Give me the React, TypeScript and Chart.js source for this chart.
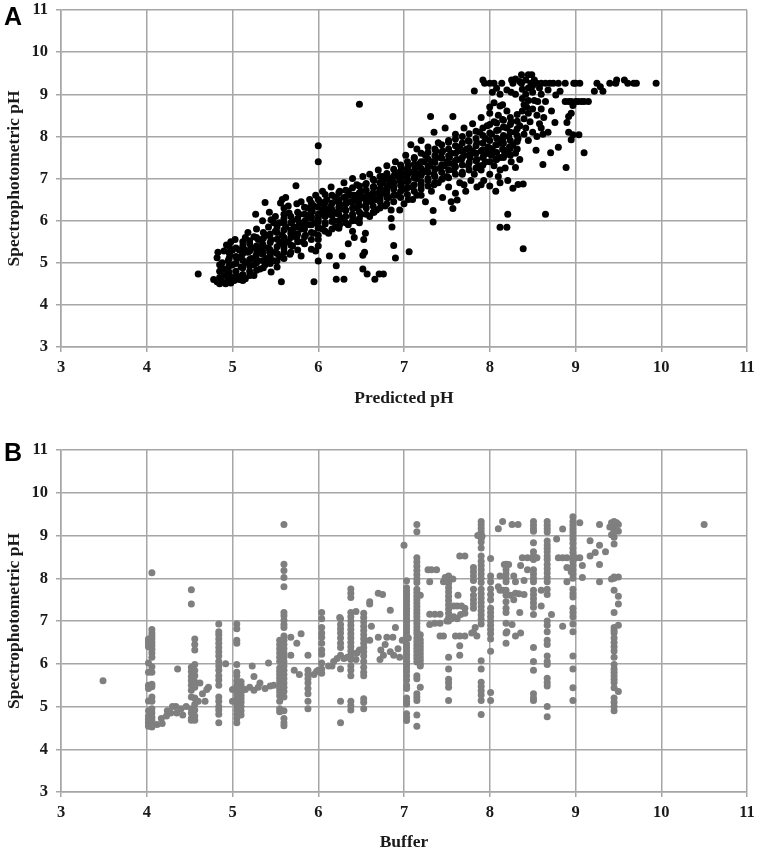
import React, { useEffect, useRef } from "react";
import { Chart, registerables } from "chart.js";

Chart.register(...registerables);

const axisTicks = [3, 4, 5, 6, 7, 8, 9, 10, 11];

// Panel A: [predicted pH, spectrophotometric pH]
const predictedOutliers = [[4.6,4.73],[5.74,6.83],[5.38,6.43],[5.27,6.15],[5.43,6.2],[5.57,4.55],[5.95,4.55],[6.21,4.61],[6.3,4.61],[6.52,4.85],[6.57,4.73],[6.66,4.61],[6.71,4.73],[6.76,4.73],[6.21,4.93],[6.13,5.16],[6.28,5.16],[6.0,5.04],[5.8,5.16],[5.67,5.2],[6.52,5.18],[6.54,5.25],[6.9,5.11],[7.06,5.26],[6.88,5.41],[7.34,5.97],[7.34,6.24],[8.39,5.33],[8.12,5.84],[8.2,5.84],[8.21,6.15],[8.65,6.15],[7.57,6.29],[7.62,6.49],[6.0,7.78],[6.0,7.4],[6.48,8.76],[6.0,5.4],[5.97,5.28],[6.0,5.55],[5.92,5.32],[6.85,6.05],[6.86,5.85],[6.53,5.55],[6.55,5.7],[6.4,5.75],[6.45,6.0],[6.95,6.25],[7.0,6.4],[6.35,5.45],[6.42,5.6]];
const predictedRunA = [[4.78,4.6],[4.82,4.55],[4.85,4.5],[4.85,4.65],[4.88,4.55],[4.9,4.7],[4.92,4.5],[4.95,4.6],[4.95,4.75],[4.98,4.52],[5.0,4.65],[4.85,4.8],[4.9,4.85],[5.02,4.58],[5.05,4.7],[5.08,4.6],[5.12,4.58],[5.15,4.62],[4.85,4.95],[4.82,5.12],[4.88,5.0],[4.9,5.28],[4.83,5.25],[4.95,5.05],[4.97,5.18],[5.0,4.95],[5.0,5.3],[5.05,5.1],[4.93,5.42],[4.98,5.5],[5.03,5.55],[5.08,5.3],[5.1,4.9],[5.1,5.15],[5.12,5.4],[5.15,5.0],[5.18,5.25],[5.15,5.6],[5.2,4.8],[5.2,5.45],[5.22,5.1],[5.25,4.7],[5.25,4.95],[5.28,5.3],[5.3,5.55],[5.3,5.05],[5.32,4.85],[5.35,5.2],[5.35,5.45],[5.38,4.95],[5.4,5.65],[5.4,5.1],[5.42,5.35],[5.45,4.78],[5.45,5.55],[5.48,5.05],[5.5,5.25],[5.5,5.75],[5.52,4.9],[5.55,5.45],[5.55,5.15],[5.58,5.65],[5.6,5.35],[5.6,6.05],[5.62,5.85],[5.65,5.5],[5.65,6.35],[5.68,5.7],[5.7,5.4],[5.7,6.0],[5.58,6.5],[5.56,6.42],[5.6,6.3],[5.62,6.55],[5.72,5.85],[5.75,6.4],[5.75,5.6],[5.78,6.15],[5.8,5.8],[5.8,6.45],[5.82,5.5],[5.85,6.0],[5.85,5.65],[5.48,5.95],[5.42,5.85],[5.5,6.1],[5.55,5.95],[5.36,5.72],[5.28,5.8],[5.25,5.62],[5.18,5.72],[5.35,6.0],[5.45,6.02],[5.52,5.85],[5.6,6.15],[5.66,6.18]];
const predictedRunB = [[5.88,6.3],[5.9,5.9],[5.9,6.5],[5.92,6.1],[5.95,5.7],[5.95,6.35],[5.97,6.6],[6.0,6.05],[6.0,5.85],[6.02,6.45],[6.05,6.25],[6.05,6.7],[6.08,5.95],[6.1,6.5],[6.1,6.15],[6.12,5.7],[6.15,6.35],[6.15,6.8],[6.18,6.0],[6.2,6.55],[6.2,5.85],[6.22,6.2],[6.25,6.7],[6.25,6.4],[6.28,6.05],[6.3,6.55],[6.3,6.9],[6.32,6.25],[6.35,5.9],[6.35,6.7],[6.38,6.45],[6.4,6.1],[6.4,7.0],[6.42,6.6],[6.45,6.3],[6.45,6.85],[6.48,6.5],[6.5,6.15],[6.5,6.7],[6.52,7.05],[6.55,6.35],[6.55,6.85],[6.58,6.6],[6.6,6.1],[6.6,7.1],[6.62,6.45],[6.65,6.8],[6.65,6.95],[6.68,6.25],[6.7,6.65],[6.7,7.2],[6.72,6.5],[6.75,6.9],[6.75,7.05],[6.78,6.35],[6.8,6.75],[6.8,7.3],[6.82,6.55],[6.85,7.0],[6.85,6.25],[6.88,6.8],[6.9,7.15],[6.9,7.4],[6.92,6.6],[6.95,6.95],[6.97,7.25],[7.0,6.75],[7.0,7.1],[7.02,7.55],[7.05,6.5],[7.05,6.95],[7.05,7.3],[7.08,7.8],[7.1,6.8],[7.1,7.15],[7.12,7.5],[7.15,6.6],[7.15,7.0],[7.15,7.7],[7.18,7.35],[7.2,6.85],[7.2,7.9],[7.22,7.15],[7.25,6.45],[7.25,7.55],[7.28,6.95],[7.28,7.75],[7.3,7.3],[7.31,8.47],[7.32,6.7],[7.35,7.1],[7.35,8.1],[7.38,7.5],[7.4,6.9],[7.4,7.85],[7.42,7.25],[7.45,6.55],[7.45,7.65],[7.48,8.2],[7.5,7.05],[7.5,7.4]];
const predictedRunC = [[7.52,6.8],[7.52,7.9],[7.55,6.45],[7.55,7.6],[7.57,8.47],[7.58,7.2],[7.6,6.65],[7.6,8.05],[7.62,7.45],[7.65,6.9],[7.65,7.75],[7.68,7.1],[7.7,8.2],[7.7,7.55],[7.72,6.7],[7.75,7.9],[7.75,7.3],[7.78,6.95],[7.8,7.65],[7.8,8.3],[7.82,7.1],[7.82,9.08],[7.85,6.8],[7.85,7.85],[7.85,7.45],[7.88,8.1],[7.9,7.2],[7.9,7.65],[7.9,8.45],[7.92,9.34],[7.93,6.95],[7.94,9.26],[7.95,7.95],[7.95,7.4],[7.97,8.25],[7.98,7.75],[8.0,6.82],[8.0,7.1],[8.0,8.55],[8.0,8.7],[8.0,9.26],[8.02,7.55],[8.02,8.05],[8.03,9.05],[8.05,7.3],[8.05,8.35],[8.05,8.8],[8.05,9.26],[8.07,6.7],[8.07,7.8],[8.08,9.14],[8.1,7.05],[8.1,8.15],[8.1,8.5],[8.12,7.5],[8.12,8.72],[8.14,9.26],[8.12,9.0],[8.15,7.7],[8.15,7.95],[8.15,8.4],[8.18,7.25],[8.2,8.2],[8.2,8.6],[8.21,6.95],[8.22,7.6],[8.22,8.0],[8.25,7.4],[8.25,8.35],[8.25,9.05],[8.255,9.34],[8.27,6.77],[8.27,7.8],[8.27,9.26],[8.3,7.26],[8.3,8.1],[8.3,7.6],[8.3,9.0],[8.33,6.86],[8.33,7.95],[8.35,8.25],[8.35,7.45],[8.37,9.46],[8.37,9.26],[8.38,9.12],[8.38,8.9],[8.38,8.6],[8.39,6.87],[8.4,8.05],[8.4,8.42],[8.4,8.75],[8.42,9.34],[8.42,9.0],[8.42,8.2],[8.45,7.9],[8.45,9.46],[8.45,9.15],[8.45,8.85],[8.45,8.55],[8.47,8.35],[8.48,9.26],[8.49,9.46],[8.5,8.65],[8.5,9.05],[8.5,8.1],[8.52,8.85],[8.52,9.34],[8.54,7.67],[8.55,8.5],[8.55,8.0],[8.55,9.26],[8.56,8.83],[8.58,8.3],[8.6,8.65],[8.6,9.26],[8.6,9.0],[8.62,7.33],[8.62,8.05],[8.63,8.45],[8.65,8.83],[8.65,9.26],[8.68,9.1],[8.68,8.1],[8.7,9.26],[8.71,7.61],[8.72,8.6],[8.74,9.26],[8.76,8.33],[8.77,8.98],[8.8,7.74],[8.8,9.26],[8.82,9.07],[8.88,8.83],[8.88,9.26],[8.89,7.26],[8.9,8.33],[8.92,8.83],[8.92,8.1],[8.92,8.47],[8.95,7.92],[8.95,8.83],[8.95,8.55],[8.97,8.04],[8.97,8.73],[8.98,9.26],[9.0,8.83],[9.0,9.26],[9.03,8.83],[9.04,8.04],[9.05,9.26],[9.07,8.83],[9.1,7.61],[9.1,8.83],[9.15,8.83],[9.22,9.07],[9.25,9.26],[9.29,9.18],[9.32,9.07],[9.4,9.26],[9.47,9.26],[9.48,9.34],[9.57,9.34],[9.61,9.26],[9.68,9.26],[9.71,9.26],[9.94,9.26]];
const predictedFill = [[5.15,5.3],[5.27,5.15],[5.22,5.35],[5.33,5.32],[5.44,5.22],[5.58,5.5],[5.72,5.7],[5.78,5.95],[5.88,6.12],[5.83,5.88],[5.93,6.22],[5.96,5.95],[6.03,6.15],[6.07,6.38],[6.13,6.28],[6.17,6.15],[6.23,6.45],[6.27,6.28],[6.33,6.42],[6.37,6.6],[6.43,6.5],[6.47,6.4],[6.53,6.55],[6.57,6.48],[6.63,6.6],[6.67,6.5],[6.73,6.75],[6.77,6.65],[6.83,6.85],[6.87,6.92],[6.93,7.05],[6.97,6.88],[7.03,7.0],[7.07,7.15],[7.13,7.25],[7.17,7.1],[7.23,7.4],[7.27,7.2],[7.33,7.4],[7.37,7.65],[7.43,7.5],[7.47,7.3],[7.53,7.5],[7.57,7.35],[7.63,7.65],[7.67,7.45],[7.73,7.7],[7.77,7.5],[7.83,7.6],[7.87,7.3],[7.93,7.55],[7.97,7.65],[8.03,7.7],[8.07,7.45],[8.13,7.85],[8.17,7.55],[8.23,7.75],[6.05,5.8],[6.25,5.9],[6.48,5.95],[6.65,6.2],[7.1,6.5],[7.2,6.6],[7.35,6.85],[7.45,7.0],[7.7,6.85],[7.9,6.85],[8.12,6.9],[8.12,7.2],[8.15,8.75],[8.6,8.2],[8.2,9.1],[8.43,8.7],[8.5,9.2],[8.35,9.3],[8.3,9.36],[8.58,9.15]];
const predictedCore = [[4.96,[4.6,4.78,4.92,5.1,5.25,5.4]],[5.04,[4.62,4.8,4.98,5.15,5.35]],[5.12,[4.72,4.88,5.06,5.22,5.5]],[5.2,[4.7,4.92,5.08,5.28,5.52]],[5.28,[4.82,5.0,5.2,5.4,5.6]],[5.36,[4.88,5.05,5.25,5.4,5.58]],[5.44,[4.98,5.14,5.3,5.48,5.68]],[5.52,[5.05,5.22,5.38,5.56,5.72,5.92]],[5.6,[5.1,5.25,5.45,5.6,5.78,5.95]],[5.68,[5.25,5.42,5.6,5.78,5.95,6.1]],[5.76,[5.3,5.5,5.68,5.85,6.05,6.2]],[5.84,[5.45,5.62,5.8,5.98,6.15,6.32]],[5.92,[5.55,5.72,5.9,6.06,6.22,6.42]],[6.0,[5.65,5.82,5.98,6.15,6.32,6.5]],[6.08,[5.75,5.92,6.1,6.28,6.44,6.62]],[6.16,[5.8,5.98,6.12,6.26,6.42,6.6]],[6.24,[5.82,6.0,6.15,6.32,6.5,6.66]],[6.32,[5.95,6.1,6.24,6.4,6.56,6.72]],[6.4,[6.0,6.16,6.3,6.44,6.6,6.78]],[6.48,[6.05,6.2,6.36,6.52,6.66,6.82]],[6.56,[6.15,6.3,6.44,6.58,6.72,6.88]],[6.64,[6.2,6.35,6.5,6.66,6.8,6.98]],[6.72,[6.3,6.45,6.6,6.75,6.9,7.05]],[6.8,[6.4,6.55,6.68,6.82,6.98,7.12]],[6.88,[6.45,6.6,6.75,6.9,7.06,7.22]],[6.96,[6.55,6.7,6.84,7.0,7.16,7.32]],[7.04,[6.62,6.78,6.92,7.08,7.22,7.4]],[7.12,[6.7,6.85,7.02,7.18,7.34,7.48]],[7.2,[6.75,6.92,7.08,7.24,7.4,7.6]],[7.28,[6.82,7.0,7.15,7.3,7.46,7.62]],[7.36,[6.9,7.05,7.22,7.38,7.54,7.7]],[7.44,[6.98,7.15,7.32,7.48,7.62,7.8]],[7.52,[7.02,7.2,7.36,7.54,7.7,7.86]],[7.6,[7.1,7.28,7.42,7.6,7.78,7.94]],[7.68,[7.15,7.32,7.5,7.66,7.84,8.0]],[7.76,[7.2,7.38,7.56,7.72,7.88,8.06]],[7.84,[7.25,7.42,7.6,7.78,7.95,8.12]],[7.92,[7.32,7.5,7.68,7.84,8.02,8.2]],[8.0,[7.4,7.58,7.72,7.9,8.08,8.28]],[8.08,[7.45,7.62,7.8,7.96,8.14,8.32]],[8.16,[7.5,7.68,7.84,8.02,8.22,8.38]],[8.24,[7.55,7.72,7.9,8.1,8.28,8.45]],[8.32,[7.7,7.88,8.02,8.18,8.36,8.52]]] as [number, number[]][];

// Panel B: buffer columns, [buffer pH, spectrophotometric pH values]
const column402 = [4.02,[6.58,6.52,6.46,6.4,6.02,5.8,5.5,5.42,5.13,4.9,4.78,4.7,4.65,4.6,4.54]];
const column406 = [4.06,[8.13,6.8,6.72,6.65,6.58,6.5,6.42,6.34,6.25,6.15,5.93,5.8,5.52,5.46,5.22,5.12,4.95,4.85,4.75,4.68,4.6,4.52]];
const column452 = [4.52,[7.73,7.4,5.92,5.82,5.7,5.6,5.5,5.38,5.22,4.95,4.85,4.72,4.68]];
const column456 = [4.56,[6.58,6.45,6.32,5.98,5.84,5.72,5.58,5.45,5.2,5.05,4.92,4.78,4.68]];
const column483 = [4.84,[6.93,6.75,6.68,6.58,6.48,6.38,6.28,6.18,6.05,5.95,5.85,5.72,5.62,5.5,5.22,5.12,5.0,4.92,4.82,4.62]];
const column505 = [5.05,[6.93,6.82,6.55,6.48,5.98,5.8,5.72,5.6,5.5,5.42,5.32,5.25,5.18,5.1,5.02,4.92,4.82,4.72,4.62]];
const column510 = [5.1,[5.58,5.5,5.42,5.34,5.26,5.18,5.1,5.0,4.9,4.8]];
const column555 = [5.55,[6.55,6.45,6.35,6.25,6.15,6.05,5.9,5.82,5.74,5.66,5.58,5.5,5.42,5.34,5.25,5.12,4.95,4.88]];
const column560 = [5.6,[9.26,8.33,8.18,8.02,7.8,7.2,7.12,7.02,6.92,6.85,6.65,6.55,6.45,6.35,6.25,6.15,6.05,5.95,5.85,5.75,5.65,5.55,5.45,5.35,5.22,4.9,4.72,4.62,4.55]];
const column588 = [5.88,[6.2,5.85,5.75,5.65,5.55,5.42,5.3,5.12,4.95]];
const column604 = [6.04,[7.2,7.05,6.85,6.72,6.62,6.48,6.32,6.22,6.02,5.88,5.78]];
const column626 = [6.26,[7.05,6.92,6.82,6.72,6.6,6.48,6.38,6.2,5.88,5.12,4.62]];
const column638 = [6.38,[7.75,7.65,7.55,7.2,7.1,7.0,6.9,6.8,6.7,6.6,6.5,6.4,6.3,6.2,6.1,5.95,5.85,5.72,5.12,5.02,4.92]];
const column653 = [6.53,[7.18,7.08,6.98,6.88,6.78,6.68,6.58,6.48,6.38,6.28,6.18,6.05,5.92,5.8,5.72,5.18,5.1,4.95]];
const column703 = [7.03,[7.94,7.78,7.7,7.62,7.54,7.46,7.38,7.3,7.22,7.14,7.06,6.98,6.9,6.82,6.74,6.66,6.58,6.46,6.38,6.3,6.22,6.14,6.06,5.98,5.9,5.82,5.72,5.62,5.49,5.42,5.2,5.12,5.06,4.83,4.75,4.67]];
const column715 = [7.15,[9.26,9.09,8.48,8.38,8.28,8.18,8.08,7.98,7.9,7.74,7.66,7.58,7.5,7.42,7.34,7.26,7.18,7.1,7.02,6.94,6.86,6.78,6.7,6.6,6.52,6.44,6.36,6.28,6.2,6.12,6.04,5.72,5.65,5.3,5.22,5.14,4.8,4.54]];
const column720 = [7.19,[7.6,6.68,6.56,6.48,6.4,6.32,6.24,6.16,6.08,6.0,5.95,5.45]];
const column752 = [7.52,[8.05,7.95,7.88,7.78,7.68,7.58,7.48,7.38,7.28,7.18,7.08,7.0,6.15,5.88,5.64,5.55,5.45,5.14]];
const column781 = [7.81,[8.25,8.15,8.05,7.95,7.74,7.6,7.5,7.4,7.3,6.73]];
const column790 = [7.9,[9.33,9.25,9.17,9.09,9.01,8.93,8.85,8.71,8.52,8.4,8.3,8.2,8.1,8.0,7.9,7.74,7.64,7.54,7.44,7.34,7.24,7.14,7.04,6.93,6.07,5.88,5.57,5.47,5.37,5.27,5.14,4.81]];
const column801 = [8.01,[8.46,8.05,7.92,7.75,7.62,7.5,7.3,7.2,7.1,7.0,6.9,6.8,6.7,6.58,6.29,5.33,5.14]];
const column819 = [8.19,[8.33,8.2,8.1,8.0,7.92,7.72,7.6,7.45,7.3,7.2,6.95,6.72,6.48]];
const column851 = [8.51,[9.33,9.24,9.16,9.1,8.83,8.62,8.52,8.44,8.2,8.1,8.0,7.92,7.72,7.62,7.52,7.42,7.32,7.15,6.38,6.05,5.85,5.3,5.2,5.14]];
const column867 = [8.67,[9.33,9.24,9.16,9.08,8.87,8.78,8.7,8.62,8.52,8.44,8.32,8.22,8.12,8.02,7.92,7.74,7.62,7.0,6.9,6.75,6.55,6.45,6.18,6.05,5.98,5.66,5.56,5.48,5.0,4.76]];
const column897 = [8.97,[9.44,9.33,9.24,9.16,9.08,9.0,8.92,8.82,8.7,8.6,8.5,8.4,8.3,8.2,8.1,8.0,7.74,7.64,7.56,7.3,7.2,7.1,6.93,6.75,6.18,5.88,5.44,5.14]];
const column945 = [9.45,[9.33,9.26,9.18,9.12,8.96,8.8,8.0,7.72,7.2,6.85,6.78,6.72,6.6,6.5,6.4,6.3,6.15,5.98,5.88,5.8,5.72,5.64,5.56,5.44,5.2,5.1,5.0,4.9]];
const column950 = [9.5,[9.26,9.1,8.03,7.58,7.4,6.9,5.35]];
const bufferScatter = [[3.49,5.6],[10.5,9.26],[4.17,4.72],[4.23,4.78],[4.28,4.85],[4.34,5.0],[4.4,4.95],[4.46,5.0],[4.3,5.0],[4.24,4.9],[4.35,4.85],[4.42,4.8],[4.12,4.58],[4.18,4.6],[4.72,5.45],[4.65,5.3],[4.6,5.12],[4.68,5.12],[4.7,5.4],[4.36,5.88],[4.62,5.55],[4.92,6.0],[5.0,5.4],[5.0,5.12],[5.25,5.7],[5.32,5.55],[5.38,5.42],[5.44,5.48],[5.48,5.5],[5.2,5.45],[5.25,5.38],[5.3,5.45],[5.15,5.4],[5.42,6.02],[5.23,5.95],[5.68,6.62],[5.75,6.48],[5.8,6.7],[5.68,6.2],[5.72,5.85],[5.78,5.75],[5.95,5.75],[5.98,5.82],[6.0,5.85],[6.12,5.95],[6.16,5.95],[6.18,6.05],[6.22,6.12],[6.3,6.12],[6.34,6.15],[6.45,6.25],[6.48,6.32],[6.44,6.1],[6.44,7.22],[6.6,6.55],[6.62,6.88],[6.7,6.62],[6.78,6.45],[6.8,6.62],[6.87,6.62],[6.73,6.32],[6.9,6.85],[6.84,7.25],[6.72,6.1],[6.6,7.4],[6.6,7.45],[6.25,7.08],[6.7,7.65],[6.75,7.62],[6.76,6.2],[6.84,6.28],[6.88,6.2],[6.93,6.35],[6.98,6.55],[6.95,6.15],[7.0,8.77],[7.05,6.6],[7.28,8.2],[7.32,8.2],[7.38,8.2],[7.3,7.92],[7.46,7.92],[7.48,8.02],[7.57,7.98],[7.3,7.16],[7.36,7.16],[7.42,7.16],[7.3,6.92],[7.36,6.95],[7.42,6.95],[7.42,6.65],[7.46,6.65],[7.6,6.65],[7.65,6.65],[7.71,6.65],[7.65,6.42],[7.65,6.2],[7.65,8.52],[7.71,8.52],[7.63,7.6],[7.58,7.35],[7.62,7.35],[7.67,7.35],[7.71,7.3],[7.71,7.18],[7.66,7.15],[7.58,7.1],[7.62,7.05],[7.5,7.0],[7.55,7.05],[7.79,6.72],[7.85,6.65],[7.83,6.85],[7.86,9.0],[7.91,8.98],[8.1,9.16],[8.15,9.33],[8.26,9.26],[8.33,9.26],[8.12,8.05],[8.17,8.32],[8.22,8.32],[8.28,8.05],[8.36,8.3],[8.38,8.48],[8.44,8.48],[8.5,8.48],[8.55,8.48],[8.3,7.92],[8.4,7.95],[8.44,8.2],[8.24,7.6],[8.3,7.65],[8.34,7.64],[8.28,7.5],[8.12,7.72],[8.1,7.8],[8.16,7.72],[8.4,7.62],[8.35,7.2],[8.26,6.92],[8.2,6.75],[8.3,6.65],[8.36,6.72],[8.6,7.72],[8.6,7.35],[8.72,7.15],[8.85,8.48],[8.9,8.48],[8.8,8.48],[8.78,8.92],[8.85,9.15],[8.85,6.88],[8.9,7.92],[8.9,8.25],[8.95,8.15],[9.0,8.48],[9.08,8.3],[9.08,8.02],[9.05,8.48],[9.05,9.3],[9.28,9.26],[9.17,8.88],[9.28,8.77],[9.35,8.62],[9.23,8.6],[9.17,8.52],[9.28,8.32],[9.28,7.92],[9.42,7.98],[9.45,8.03],[9.4,9.2],[9.42,9.3],[9.48,9.3],[9.45,9.08],[9.42,9.02]];

const predictedPoints = [
  ...[...predictedOutliers, ...predictedRunA, ...predictedRunB, ...predictedRunC, ...predictedFill].map(([x, y]) => ({ x, y })),
  ...predictedCore.flatMap(([x, ys]) => ys.map((y) => ({ x, y }))),
];
const columns = [column402, column406, column452, column456, column483, column505, column510, column555, column560, column588, column604, column626, column638, column653, column703, column715, column720, column752, column781, column790, column801, column819, column851, column867, column897, column945, column950] as [number, number[]][];
const bufferPoints = [
  ...columns.flatMap(([x, ys]) => ys.map((y) => ({ x, y }))),
  ...(bufferScatter as number[][]).map(([x, y]) => ({ x, y })),
];

const GRID = "#a6a6a6";
const serif = "'Liberation Serif', 'Times New Roman', serif";

function makeChart(canvas: HTMLCanvasElement, points: { x: number; y: number }[], color: string, xTitle: string, topPad: number, xBox: number) {
  const tickFont = { family: serif, size: 16.5, weight: "bold" as const };
  const titleFont = { family: serif, size: 17.5, weight: "bold" as const };
  return new Chart(canvas, {
    type: "scatter",
    data: { datasets: [{ data: points, backgroundColor: color, borderColor: color, pointRadius: 3.5, pointHoverRadius: 3.5, borderWidth: 0 }] },
    options: {
      animation: false,
      responsive: false,
      devicePixelRatio: 1,
      layout: { padding: { top: topPad, right: 12, left: 0, bottom: 0 } },
      plugins: { legend: { display: false }, tooltip: { enabled: false } },
      scales: {
        x: {
          type: "linear", min: 3, max: 11,
          afterBuildTicks: (s: any) => { s.ticks = axisTicks.map((value) => ({ value })); },
          afterFit: (s: any) => { s.height = xBox; s.paddingLeft = 0; s.paddingRight = 0; },
          grid: { color: GRID, lineWidth: 1.5, tickLength: 5, tickColor: GRID },
          border: { color: GRID, width: 1.5 },
          ticks: { color: "#1a1a1a", font: tickFont, padding: 6, maxRotation: 0, autoSkip: false },
          title: { display: true, text: xTitle, color: "#1a1a1a", font: titleFont, padding: { top: 0, bottom: 0 } },
        },
        y: {
          type: "linear", min: 3, max: 11,
          afterBuildTicks: (s: any) => { s.ticks = axisTicks.map((value) => ({ value })); },
          afterFit: (s: any) => { s.width = 61; s.paddingTop = 0; s.paddingBottom = 0; },
          grid: { color: GRID, lineWidth: 1.5, tickLength: 5, tickColor: GRID },
          border: { color: GRID, width: 1.5 },
          ticks: { color: "#1a1a1a", font: tickFont, padding: 8, autoSkip: false },
          title: { display: true, text: "Spectrophotometric pH", color: "#1a1a1a", font: titleFont, padding: { top: 3.5, bottom: 0 } },
        },
      },
    } as any,
  });
}

export default function App() {
  const refA = useRef<HTMLCanvasElement>(null);
  const refB = useRef<HTMLCanvasElement>(null);
  useEffect(() => {
    const a = makeChart(refA.current!, predictedPoints, "#000000", "Predicted pH", 10, 62);
    const b = makeChart(refB.current!, bufferPoints, "#7f7f7f", "Buffer", 20, 61);
    return () => { a.destroy(); b.destroy(); };
  }, []);
  const letter: React.CSSProperties = { position: "absolute", left: 4, fontFamily: "'Liberation Sans', Arial, sans-serif", fontWeight: "bold", fontSize: 25, lineHeight: "25px", color: "#000" };
  return (
    <div style={{ position: "absolute", left: 0, top: 0, width: 759, height: 853, background: "#fff", overflow: "hidden" }}>
      <canvas ref={refA} width={759} height={409} style={{ position: "absolute", left: 0, top: 0, width: 759, height: 409 }} />
      <canvas ref={refB} width={759} height={423} style={{ position: "absolute", left: 0, top: 430, width: 759, height: 423 }} />
      <div style={{ ...letter, top: 4 }}>A</div>
      <div style={{ ...letter, top: 440 }}>B</div>
    </div>
  );
}
